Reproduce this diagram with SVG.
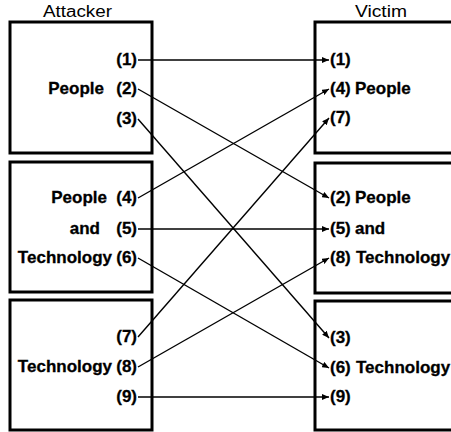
<svg xmlns="http://www.w3.org/2000/svg" width="451" height="432" viewBox="0 0 451 432">
<style>
.box{fill:#fff;stroke:#000;stroke-width:3}
.t{font-family:"Liberation Sans",Arial,sans-serif;font-weight:bold;font-size:17px;fill:#000;stroke:#000;stroke-width:0.3}
.title{font-family:"Liberation Sans",Arial,sans-serif;font-size:16px;fill:#000}
.e{text-anchor:end}
.c line{stroke:#000;stroke-width:1.4;marker-end:url(#ah)}
</style>
<defs>
<marker id="ah" markerUnits="userSpaceOnUse" markerWidth="8" markerHeight="6" refX="7" refY="3" orient="auto">
<path d="M0,0 L7,3 L0,6 z" fill="#000"/>
</marker>
</defs>
<rect width="451" height="432" fill="#fff"/>
<text class="title" x="43" y="17" textLength="69" lengthAdjust="spacingAndGlyphs">Attacker</text>
<text class="title" x="355" y="17" textLength="52" lengthAdjust="spacingAndGlyphs">Victim</text>

<g id="attacker-people">
<rect class="box" x="10" y="22" width="142" height="131"/>
<text class="t e" x="137" y="65">(1)</text>
<text class="t e" x="104" y="94">People</text>
<text class="t e" x="137" y="94">(2)</text>
<text class="t e" x="137" y="124">(3)</text>
</g>
<g id="attacker-people-technology">
<rect class="box" x="10" y="162" width="142" height="130"/>
<text class="t e" x="107" y="203">People</text>
<text class="t e" x="137" y="203">(4)</text>
<text class="t e" x="100" y="234">and</text>
<text class="t e" x="137" y="234">(5)</text>
<text class="t e" x="112" y="263">Technology</text>
<text class="t e" x="137" y="263">(6)</text>
</g>
<g id="attacker-technology">
<rect class="box" x="10" y="300" width="142" height="130"/>
<text class="t e" x="137" y="342">(7)</text>
<text class="t e" x="112" y="372">Technology</text>
<text class="t e" x="137" y="372">(8)</text>
<text class="t e" x="137" y="402">(9)</text>
</g>

<g id="victim-people">
<rect class="box" x="315" y="22" width="150" height="131"/>
<text class="t" x="330" y="65">(1)</text>
<text class="t" x="330" y="94">(4)</text>
<text class="t" x="355" y="94">People</text>
<text class="t" x="330" y="123">(7)</text>
</g>
<g id="victim-people-technology">
<rect class="box" x="315" y="163" width="150" height="130"/>
<text class="t" x="330" y="203">(2)</text>
<text class="t" x="355" y="203">People</text>
<text class="t" x="330" y="234">(5)</text>
<text class="t" x="355" y="234">and</text>
<text class="t" x="330" y="263">(8)</text>
<text class="t" x="356" y="263">Technology</text>
</g>
<g id="victim-technology">
<rect class="box" x="315" y="301" width="150" height="129"/>
<text class="t" x="330" y="343">(3)</text>
<text class="t" x="330" y="373">(6)</text>
<text class="t" x="356" y="373">Technology</text>
<text class="t" x="330" y="402">(9)</text>
</g>

<g id="connectors" class="c">
<line x1="138" y1="60" x2="329" y2="60"/>
<line x1="138" y1="89" x2="329" y2="198"/>
<line x1="138" y1="119" x2="329" y2="338"/>
<line x1="138" y1="198" x2="329" y2="89"/>
<line x1="138" y1="229" x2="329" y2="229"/>
<line x1="138" y1="258" x2="329" y2="368"/>
<line x1="138" y1="337" x2="329" y2="118"/>
<line x1="138" y1="367" x2="329" y2="258"/>
<line x1="138" y1="397" x2="329" y2="397"/>
</g>
</svg>
